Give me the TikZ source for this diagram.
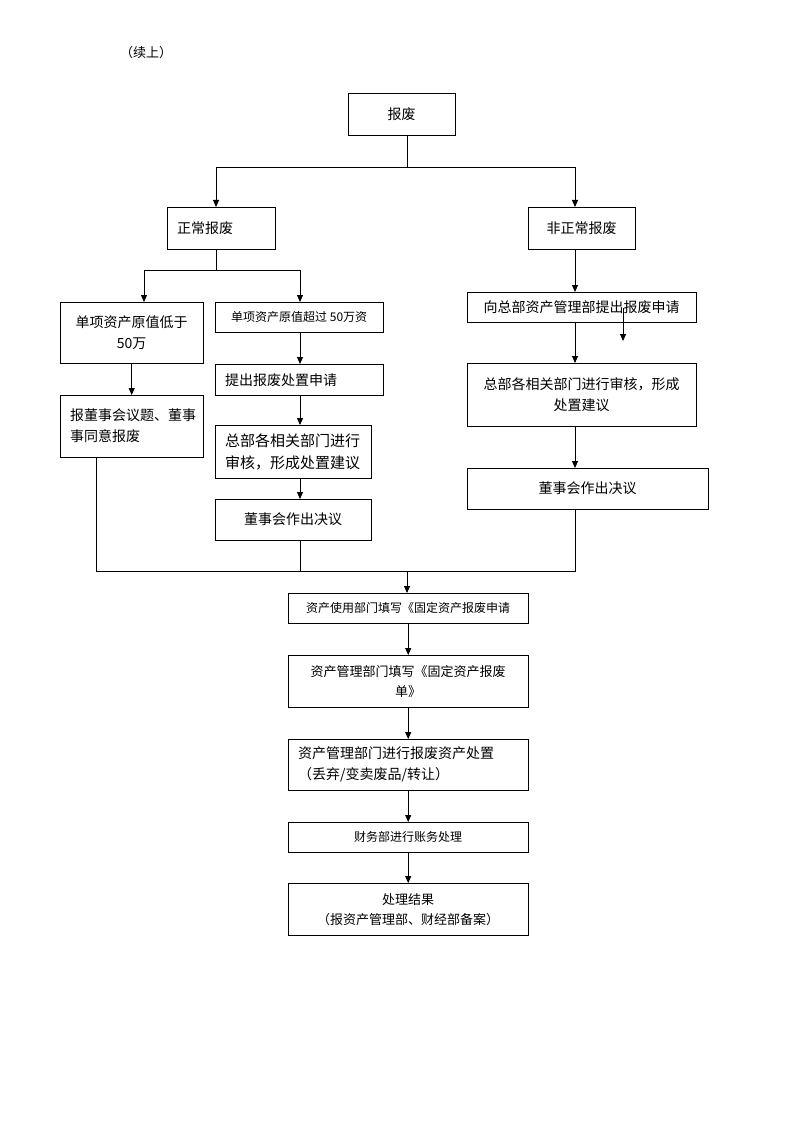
\documentclass[tikz,border=0pt]{standalone}
\usepackage{fontspec}
\setmainfont{Noto Sans CJK SC}
\usetikzlibrary{arrows.meta}
\tikzstyle{plain} = [rectangle, draw=black, anchor=north west, inner sep=0pt, align=center, font=\fontsize{14}{21}\selectfont]
\tikzstyle{lefty} = [plain, align=left, inner xsep=10pt]
\tikzstyle{small} = [font=\fontsize{12}{19}\selectfont]
\tikzstyle{mid} = [font=\fontsize{13}{20}\selectfont]
\tikzstyle{arrow} = [line width=0.8pt, -{Triangle[length=7pt,width=6pt]}]
\tikzstyle{line} = [line width=0.8pt]

\begin{document}
\begin{tikzpicture}[x=1pt, y=-1pt]
  \useasboundingbox (0,0) rectangle (794,1123);
  \node (cont) [mid] at (146,53) {（续上）};

  \node (scrap) [plain, minimum width=107pt, minimum height=42pt] at (348,93) {报废};
  \node (normal) [lefty, text width=88pt, minimum height=42pt] at (167,207) {正常报废};
  \node (abnormal) [plain, minimum width=107pt, minimum height=42pt] at (528,207) {非正常报废};

  \node (low) [plain, minimum width=143pt, minimum height=61pt] at (60,302) {单项资产原值低于\\50万};
  \node (board) [lefty, text width=123pt, minimum height=62pt] at (60,395) {报董事会议题、董事\\事同意报废};
  \node (high) [plain, small, minimum width=168pt, minimum height=30pt] at (215,302) {单项资产原值超过 50万资};
  \node (apply) [lefty, text width=148pt, minimum height=31pt] at (215,364) {提出报废处置申请};
  \node (review) [lefty, font=\fontsize{15}{22}\selectfont, text width=136pt, minimum height=53pt] at (215,425) {总部各相关部门进行\\审核，形成处置建议};
  \node (decide) [plain, minimum width=156pt, minimum height=41pt] at (215,499) {董事会作出决议};

  \node (request) [plain, minimum width=229pt, minimum height=30pt] at (467,292) {向总部资产管理部提出报废申请};
  \node (review2) [plain, minimum width=229pt, minimum height=63pt] at (467,363) {总部各相关部门进行审核，形成\\处置建议};
  \node (decide2) [plain, minimum width=241pt, minimum height=41pt] at (467,468) {董事会作出决议};

  \node (use) [plain, small, minimum width=240pt, minimum height=30pt] at (288,593) {资产使用部门填写《固定资产报废申请};
  \node (fill) [plain, mid, minimum width=240pt, minimum height=52pt] at (288,655) {资产管理部门填写《固定资产报废\\单》};
  \node (dispose) [lefty, text width=220pt, minimum height=51pt] at (288,739) {资产管理部门进行报废资产处置\\（丢弃/变卖废品/转让）};
  \node (finance) [plain, small, minimum width=240pt, minimum height=30pt] at (288,822) {财务部进行账务处理};
  \node (result) [plain, mid, minimum width=240pt, minimum height=52pt] at (288,883) {处理结果\\（报资产管理部、财经部备案）};

  % columns and junctions
  \coordinate (topfork) at (407,167);
  \coordinate (nx) at (216,270);
  \coordinate (lx) at (144,0);
  \coordinate (hx) at (300,0);
  \coordinate (rx) at (575,0);
  \coordinate (bx) at (96,0);
  \coordinate (merge) at (407,571);
  \coordinate (stray) at (623,308);
  \coordinate (strayend) at (623,341);

  \draw [line] (topfork |- scrap.south) -- (topfork);
  \draw [arrow] (topfork) -| (nx |- normal.north);
  \draw [arrow] (topfork) -| (rx |- abnormal.north);

  \draw [line] (nx |- normal.south) -- (nx);
  \draw [arrow] (nx) -| (lx |- low.north);
  \draw [arrow] (nx) -| (hx |- high.north);
  \draw [arrow] (low) -- (board);
  \draw [arrow] (hx |- high.south) -- (hx |- apply.north);
  \draw [arrow] (hx |- apply.south) -- (hx |- review.north);
  \draw [arrow] (hx |- review.south) -- (hx |- decide.north);

  \draw [arrow] (rx |- abnormal.south) -- (rx |- request.north);
  \draw [arrow] (stray) -- (strayend);
  \draw [arrow] (rx |- request.south) -- (rx |- review2.north);
  \draw [arrow] (rx |- review2.south) -- (rx |- decide2.north);

  \draw [line] (bx |- board.south) |- (rx |- merge) -- (rx |- decide2.south);
  \draw [line] (hx |- decide.south) -- (hx |- merge);
  \draw [arrow] (merge) -- (merge |- use.north);

  \draw [arrow] (use) -- (fill);
  \draw [arrow] (fill) -- (dispose);
  \draw [arrow] (dispose) -- (finance);
  \draw [arrow] (finance) -- (result);
\end{tikzpicture}
\end{document}
